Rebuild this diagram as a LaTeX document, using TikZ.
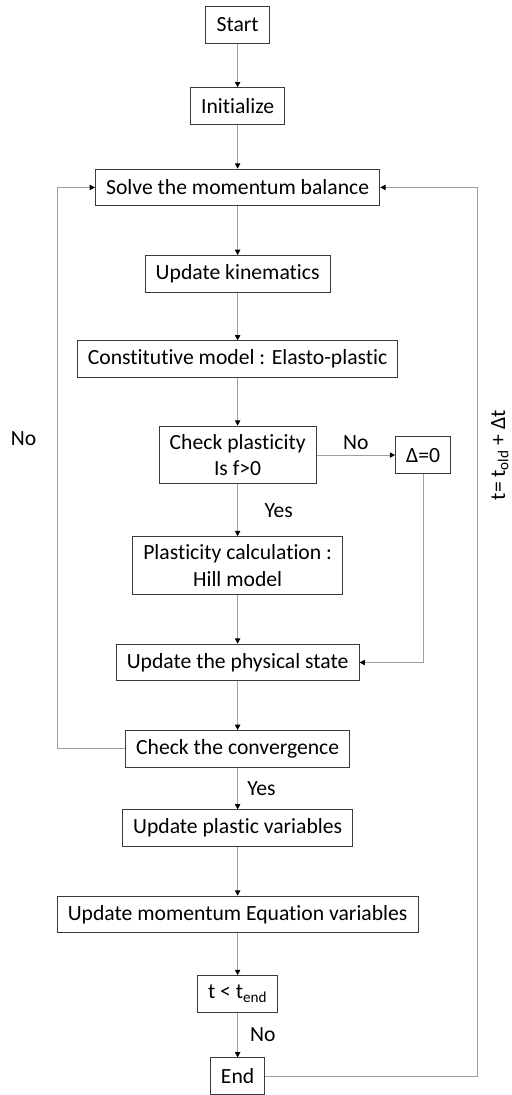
\documentclass[tikz,border=0pt]{standalone}
\usepackage{fontspec}
\setmainfont{Carlito}[Ligatures=NoCommon]
\usetikzlibrary{positioning,arrows.meta,calc}
\definecolor{boxline}{HTML}{3A3A3A}
\definecolor{flowline}{HTML}{A0A0A0}

\tikzset{
  stepbox/.style={draw=boxline, line width=0.75pt, minimum height=27.5pt, inner xsep=8pt, inner ysep=6pt, align=center},
  flow/.style={draw=flowline, line width=0.75pt, -{Triangle[length=4pt,width=4pt,color=black]}},
  lbl/.style={inner sep=2pt}
}

\begin{document}
\begin{tikzpicture}[node distance=36pt, font=\fontsize{16.3}{20}\selectfont]
    \node (start) [stepbox] {Start};
    \node (init) [stepbox, below=33pt of start] {Initialize};
    \node (solve) [stepbox, below=33pt of init] {Solve the momentum balance};
    \node (kin) [stepbox, below=36.75pt of solve] {Update kinematics};
    \node (const) [stepbox, below=of kin] {Constitutive model : Elasto-plastic};
    \node (chk) [stepbox, below=of const] {Check plasticity\\Is f>0};
    \node (delta) [stepbox, right=59pt of chk] {Δ=0};
    \node (plast) [stepbox, below=39pt of chk] {Plasticity calculation :\\Hill model};
    \node (phys) [stepbox, below=36.75pt of plast] {Update the physical state};
    \node (conv) [stepbox, below=36.75pt of phys] {Check the convergence};
    \node (pvar) [stepbox, below=31.5pt of conv] {Update plastic variables};
    \node (mom) [stepbox, below=36.75pt of pvar] {Update momentum Equation variables};
    \node (tchk) [stepbox, below=31.5pt of mom] {t < t\textsubscript{end}};
    \node (end) [stepbox, below=33.75pt of tchk] {End};

    % loop corners
    \coordinate (loopL) at ($(chk.center)+(-135.4pt,12.75pt)$);
    \coordinate (loopR) at ($(chk.center)+(180.4pt,0)$);

    \draw[flow] (start) -- (init); \draw[flow] (init) -- (solve);
    \draw[flow] (solve) -- (kin); \draw[flow] (kin) -- (const);
    \draw[flow] (const) -- (chk);
    \draw[flow] (chk) -- node[lbl, above=2pt] (nochk) {No} (delta);
    \draw[flow] (chk) -- node[lbl, right=18pt] {Yes} (plast);
    \draw[flow] (plast) -- (phys);
    \draw[flow] (delta.south) |- (phys.east);
    \draw[flow] (phys) -- (conv);
    \draw[flow] (conv) -- node[lbl, right=5pt] {Yes} (pvar);
    \draw[flow] (pvar) -- (mom); \draw[flow] (mom) -- (tchk);
    \draw[flow] (tchk) -- node[lbl, right=7pt] {No} (end);
    \draw[flow] (conv.west) -- (loopL |- conv.west) |- (solve.west);
    \draw[flow] (end.east) -- (loopR |- end.east) |- (solve.east);

    \node (noleft) [lbl, left=14pt of loopL] {No};
    \node (tstep) [lbl, rotate=90] at ($(loopR)+(17pt,0)$) {t=~t\textsubscript{old} + Δt};

    \path[use as bounding box] ($(start.north)+(-178.9pt,4.5pt)$) rectangle ($(end.north)+(204.4pt,-25.5pt)$);
  \end{tikzpicture}
\end{document}
